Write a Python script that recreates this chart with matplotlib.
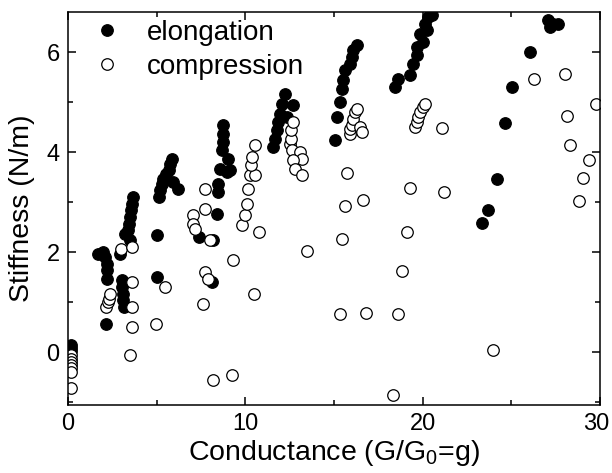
import matplotlib
matplotlib.use("Agg")
import matplotlib.pyplot as plt
from matplotlib.ticker import MultipleLocator
from matplotlib.transforms import ScaledTranslation

plt.rcParams['font.family'] = ['Liberation Sans', 'DejaVu Sans']
plt.rcParams['mathtext.fontset'] = 'custom'
plt.rcParams['mathtext.rm'] = 'Liberation Sans'

# Elongation: conductance (g) and stiffness (N/m)
elong_g = [0.15, 0.15, 0.15,
           1.71, 1.99, 2.09, 2.18, 2.18, 2.18, 2.12,
           2.93, 3.03, 3.06, 3.12, 3.12, 3.16,
           3.21, 3.40, 3.46, 3.50, 3.53, 3.59, 3.68, 3.50,
           5.00, 5.00,
           5.15, 5.19, 5.29, 5.38, 5.53, 5.68, 5.75, 5.85, 5.93, 6.22,
           7.40, 8.20, 8.10, 8.38, 8.48, 8.48, 8.57, 8.67, 8.72, 8.76, 8.76, 8.95, 9.04, 9.14,
           11.58, 11.67, 11.77, 11.86, 11.96, 12.05, 12.24, 12.33, 12.71,
           15.06, 15.15, 15.34, 15.43, 15.52, 15.62, 15.90, 16.00, 16.09, 16.28,
           18.44, 18.63, 19.29, 19.47, 19.66, 19.66, 20.04, 19.85, 20.22, 20.13, 20.32, 20.50,
           23.33, 23.70, 24.17, 24.64, 25.02, 26.05, 27.09, 27.20, 27.37, 27.65]
elong_k = [0.15, 0.08, 0.02,
           1.97, 2.00, 1.91, 1.77, 1.64, 1.47, 0.57,
           1.97, 1.44, 1.31, 1.17, 1.04, 0.91,
           2.37, 2.44, 2.57, 2.71, 2.84, 2.97, 3.11, 2.24,
           2.34, 1.51,
           3.11, 3.24, 3.37, 3.47, 3.57, 3.65, 3.77, 3.87, 3.40, 3.27,
           2.30, 2.24, 1.41, 2.77, 3.21, 3.37, 3.67, 4.04, 4.21, 4.37, 4.54, 3.60, 3.87, 3.64,
           4.11, 4.27, 4.44, 4.61, 4.77, 4.97, 5.17, 4.70, 4.94,
           4.25, 4.71, 5.01, 5.27, 5.44, 5.64, 5.77, 5.91, 6.04, 6.14,
           5.31, 5.47, 5.54, 5.77, 5.94, 6.11, 6.21, 6.37, 6.44, 6.57, 6.71, 6.74,
           2.59, 2.85, 3.46, 4.59, 5.31, 6.01, 6.64, 6.50, 6.57, 6.57]

# Compression: conductance (g) and stiffness (N/m)
comp_g = [0.15, 0.15, 0.15, 0.15, 0.15, 0.15, 0.15,
          2.14, 2.27, 2.33, 2.37, 2.99, 3.59, 3.59, 3.59, 3.59, 3.50,
          4.96, 5.47,
          7.07, 7.07, 7.16, 7.73, 7.73, 8.00, 7.73, 7.91, 7.63, 8.20, 9.27, 9.32,
          9.80, 9.98, 10.08, 10.17, 10.26, 10.55, 10.32, 10.36, 10.55, 10.79, 10.50, 13.46,
          12.52, 12.60, 12.60, 12.71, 12.62, 13.08, 13.18, 12.71, 12.80, 13.18,
          15.90, 15.90, 16.00, 16.09, 16.19, 16.28, 16.47, 16.56, 15.71, 15.62, 16.65, 15.47,
          15.34, 16.80,
          19.57, 19.66, 19.76, 19.85, 20.04, 20.13, 21.10, 19.29, 21.20, 19.10, 18.85, 18.59,
          18.31,
          23.95, 26.28, 28.03, 28.16, 28.31, 28.80, 29.02, 29.40, 29.78]
comp_k = [-0.05, -0.13, -0.20, -0.26, -0.32, -0.39, -0.71,
          0.91, 1.01, 1.07, 1.17, 2.07, 2.11, 1.41, 0.91, 0.51, -0.05,
          0.56, 1.31,
          2.74, 2.57, 2.47, 3.27, 2.87, 2.24, 1.61, 1.47, 0.97, -0.56, -0.46, 1.84,
          2.54, 2.74, 2.97, 3.27, 3.54, 3.54, 3.74, 3.91, 4.14, 2.41, 1.16, 2.03,
          4.17, 4.27, 4.44, 4.61, 4.04, 4.00, 3.87, 3.84, 3.67, 3.54,
          4.37, 4.47, 4.54, 4.67, 4.80, 4.87, 4.51, 4.41, 3.59, 2.93, 3.05, 2.27,
          0.77, 0.79,
          4.51, 4.61, 4.71, 4.81, 4.90, 4.97, 4.48, 3.28, 3.20, 2.41, 1.62, 0.77,
          -0.86,
          0.04, 5.46, 5.56, 4.72, 4.15, 3.02, 3.49, 3.84, 4.97]

fig = plt.figure(figsize=(6.12, 4.73), dpi=100)
ax = fig.add_axes([68 / 612, 1 - 405 / 473, 532 / 612, 393 / 473])

ax.plot(elong_g, elong_k, 'o', ms=8.3, mfc='black', mec='black', mew=0.9,
        ls='none', label='elongation')
ax.plot(comp_g, comp_k, 'o', ms=8.3, mfc='white', mec='black', mew=0.9,
        ls='none', label='compression')

ax.set_xlim(0, 30)
ax.set_ylim(-1.05, 6.8)
ax.xaxis.set_major_locator(MultipleLocator(10))
ax.xaxis.set_minor_locator(MultipleLocator(5))
ax.yaxis.set_major_locator(MultipleLocator(2))
ax.yaxis.set_minor_locator(MultipleLocator(1))
ax.tick_params(which='both', direction='in', top=True, right=True,
               width=1.1, labelsize=17, pad=6)
ax.tick_params(which='major', length=6)
ax.tick_params(which='minor', length=3.5)
for sp in ax.spines.values():
    sp.set_linewidth(1.1)

ax.set_xlabel('Conductance (G/G$_0$=g)', fontsize=20.5, labelpad=2)
ax.set_ylabel('Stiffness (N/m)', fontsize=20.5, labelpad=8)

ax.legend(loc='upper left', bbox_to_anchor=(0.0, 1.03), frameon=False,
          fontsize=20, handletextpad=0.75, labelspacing=0.3,
          borderaxespad=0.3, handlelength=1.4)

# keep the last x tick label inside the figure edge
fig.canvas.draw()
for lab in ax.get_xticklabels():
    if lab.get_text() == '30':
        lab.set_transform(lab.get_transform()
                          + ScaledTranslation(-3 / 72, 0, fig.dpi_scale_trans))

fig.savefig('out.png', dpi=100)
